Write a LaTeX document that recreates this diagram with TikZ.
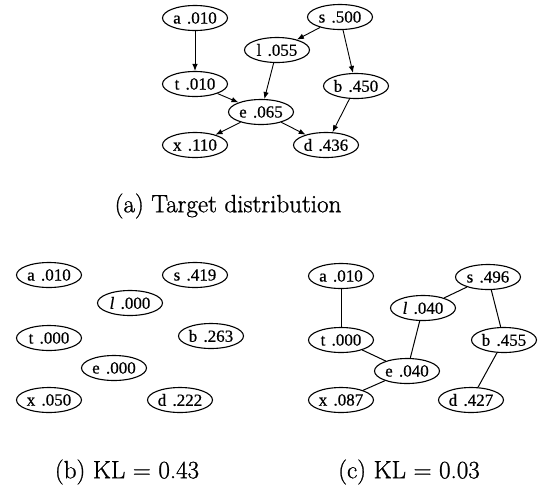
\documentclass[tikz,border=0pt]{standalone}
\usepackage{fontspec}
\newfontfamily\nodefont[FakeBold=0.5]{Liberation Serif}
\newfontfamily\capfont[FakeBold=1.0]{Latin Modern Roman}
\usetikzlibrary{shapes.geometric,arrows.meta}
\newcommand{\lbl}[2]{#1\hspace{2pt} #2}
\begin{document}
\begin{tikzpicture}[x=1pt,y=-1pt,
 vnode/.style={ellipse,draw,line width=1.1pt,minimum width=65pt,minimum height=25pt,inner sep=0pt,font=\nodefont\fontsize{17}{20}\selectfont},
 arr/.style={line width=0.9pt,-{Latex[length=7pt,width=5.5pt]}},
 und/.style={line width=1pt},
 capt/.style={font=\capfont\fontsize{25}{30}\selectfont}]
\useasboundingbox (0,0) rectangle (541,488);
% (a) target distribution
\node[vnode] (aa) at (195,18) {\lbl{a}{.010}};
\node[vnode] (as) at (340,17) {\lbl{s}{.500}};
\node[vnode] (al) at (277,50) {\lbl{l}{.055}};
\node[vnode] (at) at (195,84) {\lbl{t}{.010}};
\node[vnode] (ab) at (356,86) {\lbl{b}{.450}};
\node[vnode] (ae) at (261,112) {\lbl{e}{.065}};
\node[vnode] (ax) at (195,145) {\lbl{x}{.110}};
\node[vnode] (ad) at (326,145) {\lbl{d}{.436}};
\draw[arr] (aa) -- (at);
\draw[arr] (as) -- (al);
\draw[arr] (as) -- (ab);
\draw[arr] (al) -- (ae);
\draw[arr] (at) -- (ae);
\draw[arr] (ab) -- (ad);
\draw[arr] (ae) -- (ax);
\draw[arr] (ae) -- (ad);
\node[capt] (capa) at (228,206) {(a) Target distribution};
% (b)
\node[vnode] (ba) at (49,275) {\lbl{a}{.010}};
\node[vnode] (bs) at (195,275) {\lbl{s}{.419}};
\node[vnode] (bl) at (130,303) {\lbl{\textit{l}}{.000}};
\node[vnode] (bt) at (49,338) {\lbl{t}{.000}};
\node[vnode] (bb) at (211,336) {\lbl{b}{.263}};
\node[vnode] (be) at (114,368) {\lbl{e}{.000}};
\node[vnode] (bx) at (49,400) {\lbl{x}{.050}};
\node[vnode] (bd) at (180,400) {\lbl{d}{.222}};
\node[capt] (capb) at (127,472) {(b) KL = 0.43};
% (c)
\node[vnode] (ca) at (341,276) {\lbl{a}{.010}};
\node[vnode] (cs) at (488,277) {\lbl{s}{.496}};
\node[vnode] (cl) at (423,308) {\lbl{\textit{l}}{.040}};
\node[vnode] (ct) at (341,340) {\lbl{t}{.000}};
\node[vnode] (cb) at (504,340) {\lbl{b}{.455}};
\node[vnode] (ce) at (407,371) {\lbl{e}{.040}};
\node[vnode] (cx) at (341,400) {\lbl{x}{.087}};
\node[vnode] (cd) at (471,400) {\lbl{d}{.427}};
\draw[und] (ca) -- (ct);
\draw[und] (cs) -- (cl);
\draw[und] (cs) -- (cb);
\draw[und] (cl) -- (ce);
\draw[und] (ct) -- (ce);
\draw[und] (ce) -- (cx);
\draw[und] (cb) -- (cd);
\node[capt] (capc) at (409,472) {(c) KL = 0.03};
\end{tikzpicture}
\end{document}
